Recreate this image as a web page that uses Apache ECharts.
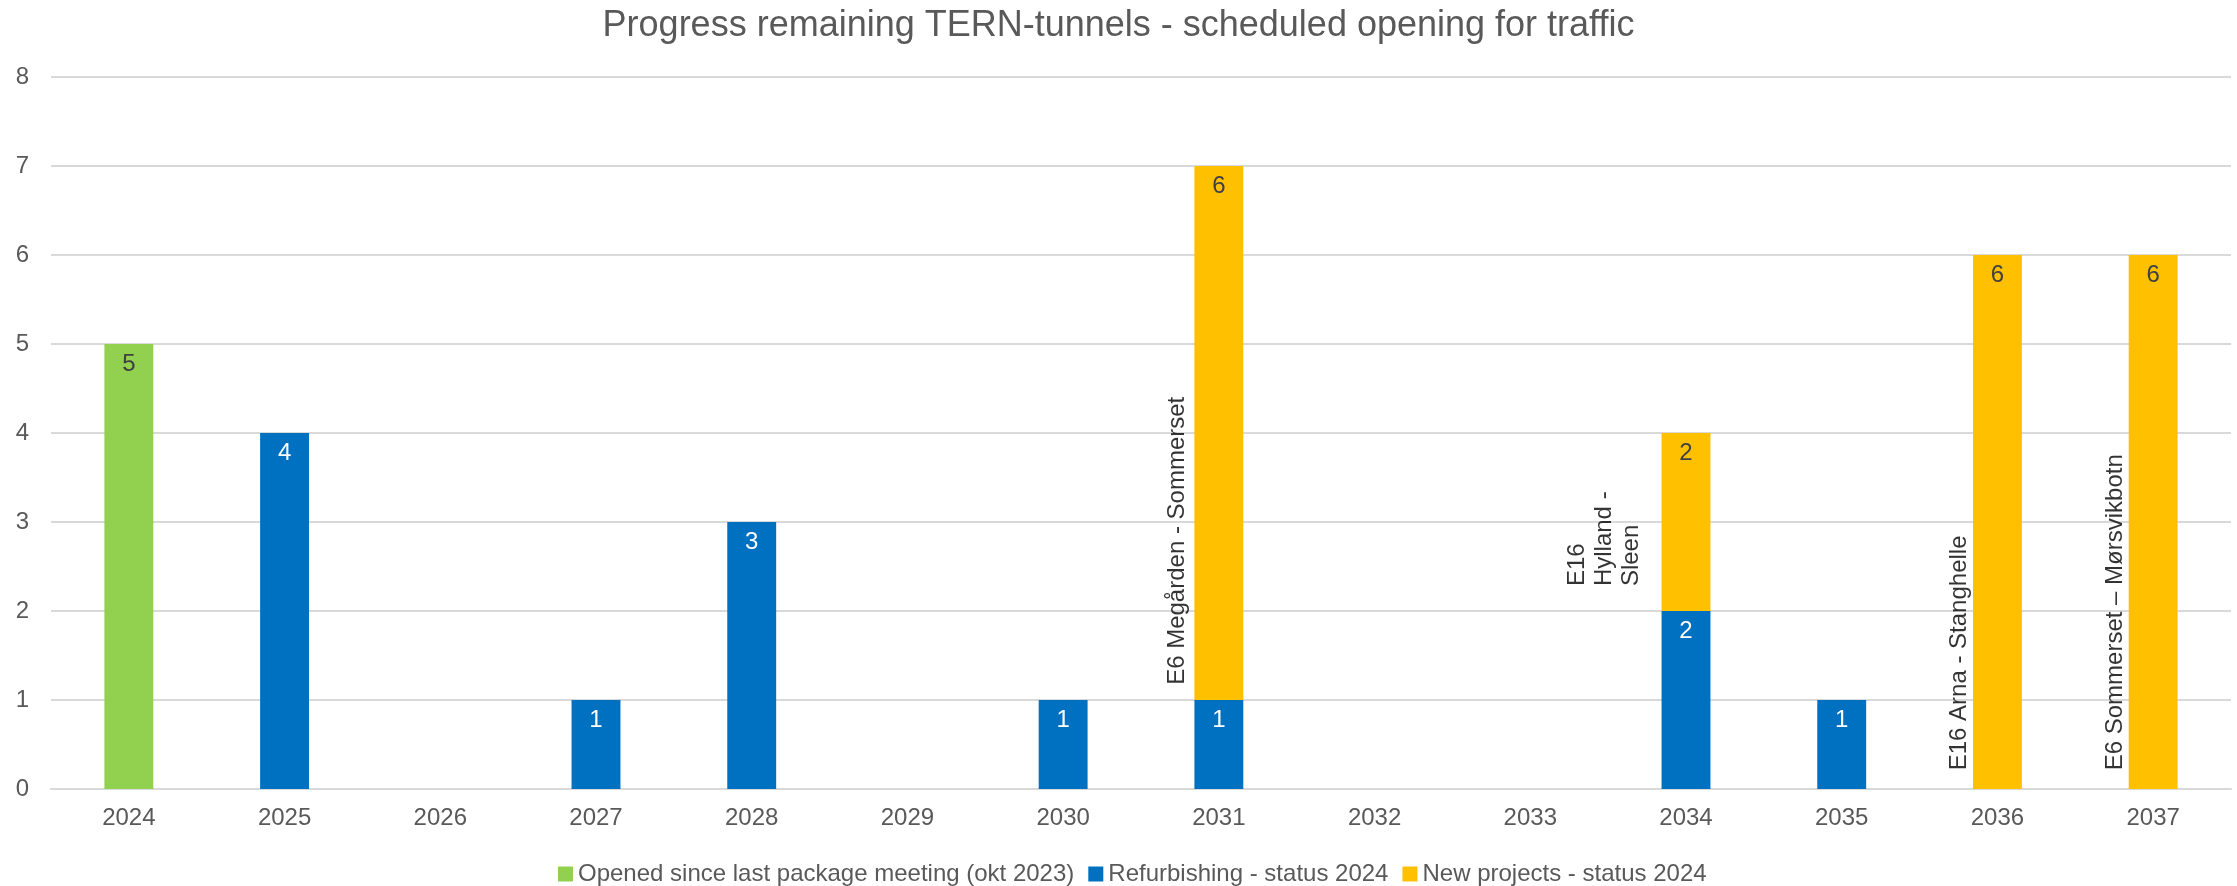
<!DOCTYPE html>
<html>
<head>
<meta charset="utf-8">
<script src="https://cdn.jsdelivr.net/npm/echarts@6/dist/echarts.min.js"></script>
<style>
  html, body { margin: 0; padding: 0; background: #fff; }
  #chart { width: 2237px; height: 886px; }
</style>
</head>
<body>
<div id="chart"></div>
<script>
// data
const years = ["2024", "2025", "2026", "2027", "2028", "2029", "2030",
  "2031", "2032", "2033", "2034", "2035", "2036", "2037"];
const opened = [5, null, null, null, null, null, null, null, null, null, null, null, null, null];
const refurbishing = [null, 4, null, 1, 3, null, 1, 1, null, null, 2, 1, null, null];
const newProjects = [null, null, null, null, null, null, null, 6, null, null, 2, null, 6, 6];

// vertical notes next to the bars
const noteText = ["E6 Megården - Sommerset", "E16\nHylland -\nSleen", "E16 Arna - Stanghelle", "E6 Sommerset – Mørsvikbotn"];
const noteYear = ["2031", "2034", "2036", "2037"];
const noteBase = [1.17, 2.28, 0.21, 0.21];
const noteGap = [0.02, 0.11, 0.0, 0.0];

const font = "'Liberation Sans', Arial, sans-serif";
const barShare = 0.314; // bar width as share of category

const chart = echarts.init(document.getElementById("chart"));

const labelStyle = (color) => ({
  show: true,
  position: "insideTop",
  distance: 8,
  fontSize: 24,
  fontFamily: font,
  color: color
});

chart.setOption({
  animation: false,
  title: {
    text: "Progress remaining TERN-tunnels - scheduled opening for traffic",
    left: "center",
    top: 3,
    textStyle: { fontSize: 36, fontWeight: "normal", color: "#595959", fontFamily: font }
  },
  legend: {
    data: ["Opened since last package meeting (okt 2023)", "Refurbishing - status 2024", "New projects - status 2024"],
    left: 553,
    top: 857,
    itemWidth: 15,
    itemHeight: 15,
    itemGap: 14,
    icon: "rect",
    textStyle: { fontSize: 24, color: "#595959", fontFamily: font }
  },
  grid: { left: 51, right: 6, top: 77, bottom: 97 },
  xAxis: [
    {
      type: "category",
      data: years,
      axisTick: { show: false },
      axisLine: { lineStyle: { color: "#d9d9d9", width: 2 } },
      axisLabel: { fontSize: 24, color: "#595959", fontFamily: font, margin: 17 }
    },
    {
      type: "value",
      min: -0.5,
      max: 13.5,
      show: false
    }
  ],
  yAxis: {
    type: "value",
    min: 0,
    max: 8,
    interval: 1,
    axisLine: { show: false },
    axisTick: { show: false },
    axisLabel: { fontSize: 24, color: "#595959", fontFamily: font, margin: 22 },
    splitLine: { lineStyle: { color: "#d9d9d9", width: 2 } }
  },
  series: [
    {
      name: "Opened since last package meeting (okt 2023)",
      type: "bar",
      stack: "t",
      barWidth: (barShare * 100) + "%",
      itemStyle: { color: "#92D050" },
      label: labelStyle("#404040"),
      data: opened
    },
    {
      name: "Refurbishing - status 2024",
      type: "bar",
      stack: "t",
      itemStyle: { color: "#0070C0" },
      label: labelStyle("#ffffff"),
      data: refurbishing
    },
    {
      name: "New projects - status 2024",
      type: "bar",
      stack: "t",
      itemStyle: { color: "#FFC000" },
      label: labelStyle("#404040"),
      data: newProjects
    },
    {
      name: "notes",
      type: "scatter",
      xAxisIndex: 1,
      symbolSize: 0,
      silent: true,
      label: {
        show: true,
        position: [0, 0],
        align: "left",
        verticalAlign: "bottom",
        rotate: 90,
        fontSize: 24,
        lineHeight: 27,
        fontFamily: font,
        color: "#000000",
        formatter: (p) => noteText[p.dataIndex]
      },
      data: noteYear.map((y, i) => [years.indexOf(y) - barShare / 2 - noteGap[i], noteBase[i]])
    }
  ]
});
</script>
</body>
</html>
